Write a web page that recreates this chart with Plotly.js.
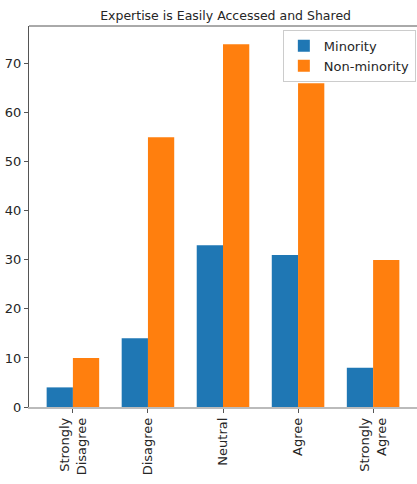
<!DOCTYPE html>
<html><head><meta charset="utf-8">
<script src="https://cdn.plot.ly/plotly-3.0.1.min.js"></script>
<style>body{margin:0;padding:0;background:#fff}</style>
</head><body>
<div id="chart" style="width:417px;height:484px"></div>
<script>
const categories = ["Strongly<br>Disagree", "Disagree", "Neutral", "Agree", "Strongly<br>Agree"];
const minority = [4, 14, 33, 31, 8];
const nonMinority = [10, 55, 74, 66, 30];
const xIdx = [0, 1, 2, 3, 4];

const font = {family: "DejaVu Sans", size: 13, color: "#262626"};
const data = [
  {type: "bar", name: "Minority", x: xIdx, y: minority, marker: {color: "#1f77b4"}},
  {type: "bar", name: "Non-minority", x: xIdx, y: nonMinority, marker: {color: "#ff7f0e"}}
];
const layout = {
  width: 417, height: 484,
  margin: {l: 29, r: 0, t: 26, b: 77, pad: 0},
  paper_bgcolor: "#fff", plot_bgcolor: "#fff",
  font: font,
  title: {text: "Expertise is Easily Accessed and Shared", font: {family: "DejaVu Sans", size: 12.5, color: "#262626"}, x: 0.541, xanchor: "center", y: 0.967, yanchor: "middle"},
  barmode: "group", bargap: 0.3, bargroupgap: 0,
  showlegend: true,
  legend: {x: 0.997, xanchor: "right", y: 0.99, yanchor: "top", bordercolor: "#cccccc", borderwidth: 1, bgcolor: "#fff", font: {family: "DejaVu Sans", size: 13, color: "#262626"}, tracegroupgap: 0, itemwidth: 30},
  xaxis: {range: [-0.585, 4.585], tickmode: "array", tickvals: xIdx, ticktext: categories, tickangle: -90,
    showline: true, linecolor: "#bbbbbb", linewidth: 1.5, ticks: "outside", ticklen: 4, tickcolor: "#555", showgrid: false, zeroline: false,
    tickfont: {family: "DejaVu Sans", size: 13, color: "#262626"}},
  yaxis: {range: [0, 77.7], tickvals: [0, 10, 20, 30, 40, 50, 60, 70], showline: true, linecolor: "#555", linewidth: 1,
    ticks: "outside", ticklen: 4, tickcolor: "#555", showgrid: false, zeroline: false,
    tickfont: {family: "DejaVu Sans", size: 13, color: "#262626"}},
  shapes: [{type: "line", xref: "paper", yref: "paper", x0: 0, x1: 1, y0: 1, y1: 1, line: {color: "#555", width: 1}}]
};
Plotly.newPlot("chart", data, layout, {displayModeBar: false, staticPlot: true});
</script>
</body></html>
